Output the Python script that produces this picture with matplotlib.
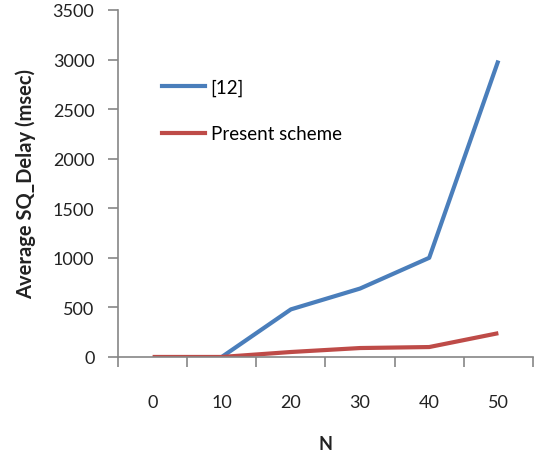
import numpy as np
import matplotlib
matplotlib.use("Agg")
import matplotlib.pyplot as plt
from matplotlib.lines import Line2D

# Data
n_values = ["0", "10", "20", "30", "40", "50"]
delay_ref12 = [np.nan, 0, 480, 690, 1000, 2990]
delay_present = [0, 0, 50, 90, 100, 240]
y_ticks = [0, 500, 1000, 1500, 2000, 2500, 3000, 3500]

blue = "#4A7EBB"
red = "#BE4B48"
axis_gray = "#868686"

plt.rcParams["font.family"] = ["Lato", "DejaVu Sans"]

fig = plt.figure(figsize=(5.34, 4.56), dpi=100)
ax = fig.add_axes([0.221, 0.215, 0.777, 0.761])

x = np.arange(len(n_values))
ax.plot(x, delay_ref12, color=blue, lw=3, solid_capstyle="butt", label="[12]")
ax.plot(x, delay_present, color=red, lw=3, solid_capstyle="butt", label="Present scheme")

ax.set_xlim(-0.5, len(n_values) - 0.5)
ax.set_ylim(0, 3500)

for s in ["top", "right"]:
    ax.spines[s].set_visible(False)
for s in ["left", "bottom"]:
    ax.spines[s].set_color(axis_gray)
    ax.spines[s].set_linewidth(1.2)

# Y axis ticks
ax.set_yticks(y_ticks)
ax.set_yticklabels([str(v) for v in y_ticks])
ax.tick_params(axis="y", which="major", direction="out", length=7, width=1.2,
               color=axis_gray, labelsize=13, pad=10, labelcolor="#222222")

# X axis: tick marks between categories, labels centred on categories
ax.set_xticks(np.arange(-0.5, len(n_values), 1.0))
ax.set_xticklabels([])
ax.tick_params(axis="x", which="major", direction="out", length=7, width=1.2,
               color=axis_gray)
ax.set_xticks(x, minor=True)
ax.set_xticklabels(n_values, minor=True)
ax.tick_params(axis="x", which="minor", length=0, labelsize=13, pad=27,
               labelcolor="#222222")

ax.set_xlabel("N", fontsize=13, fontweight="bold", labelpad=18, color="#222222")
ax.set_ylabel("Average SQ_Delay (msec)", fontsize=14.5, fontweight="bold",
              labelpad=12, color="#222222")

handles = [Line2D([], [], color=blue, lw=3),
           Line2D([], [], color=red, lw=3)]
ax.legend(handles, ["[12]", "Present scheme"], loc="upper left",
          bbox_to_anchor=(0.065, 0.85), frameon=False, fontsize=13.5,
          handlelength=2.3, handletextpad=0.3, labelspacing=1.55)

fig.savefig("out.png", dpi=100)
